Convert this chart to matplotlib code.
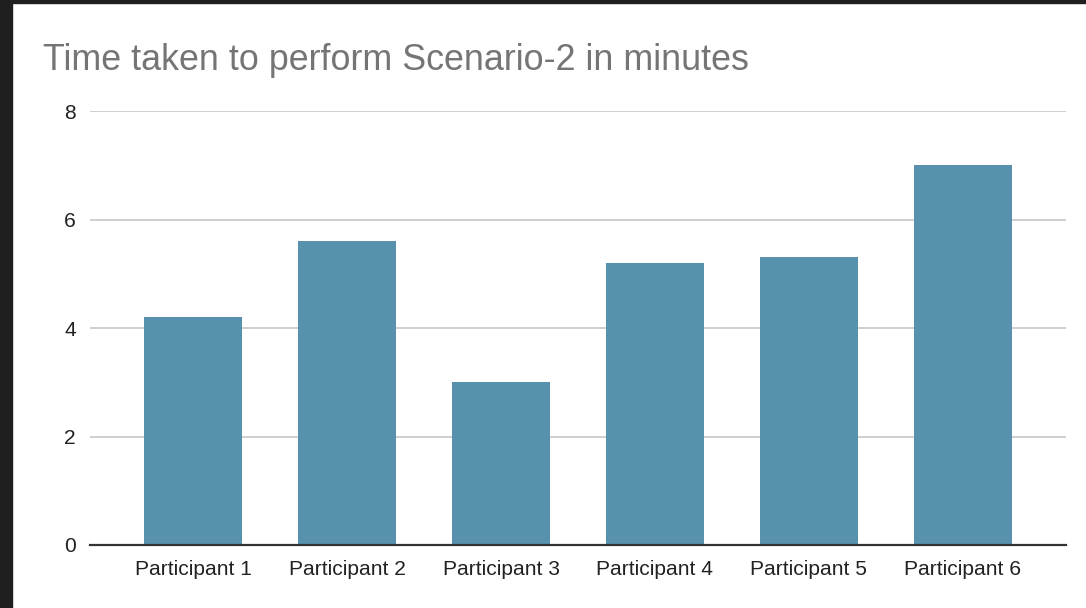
import matplotlib.pyplot as plt
from matplotlib.patches import Rectangle

participants = ['Participant 1', 'Participant 2', 'Participant 3',
                'Participant 4', 'Participant 5', 'Participant 6']
minutes = [4.2, 5.6, 3.0, 5.2, 5.3, 7.0]
yticks = [0, 2, 4, 6, 8]

plt.rcParams['font.family'] = ['Liberation Sans', 'DejaVu Sans']

fig = plt.figure(figsize=(10.86, 6.08), dpi=100)
ax = fig.add_axes([90/1086, 63/608, (1066-90)/1086, (545-111)/608])

x = range(len(participants))
ax.bar(x, minutes, width=0.64, color='#5891ad', zorder=3)

ax.set_xlim(-0.67, len(participants) - 0.33)
ax.set_ylim(0, 8)
ax.set_yticks(yticks)
ax.set_xticks(list(x))
ax.set_xticklabels(participants)
ax.tick_params(axis='both', length=0, labelsize=15.1, colors='#222222')
ax.tick_params(axis='y', pad=10)
ax.tick_params(axis='x', pad=11)

ax.grid(axis='y', color='#cccccc', linewidth=1.3, zorder=0)
for s in ['top', 'right', 'left']:
    ax.spines[s].set_visible(False)
ax.spines['bottom'].set_color('#333333')
ax.spines['bottom'].set_linewidth(1.6)
ax.spines['bottom'].set_zorder(4)

fig.text(43/1086, 1 - 60/608, 'Time taken to perform Scenario-2 in minutes',
         fontsize=25.8, color='#757575', va='center', ha='left')

# dark frame from the screenshot
fig.patches.append(Rectangle((0, 0), 12/1086, 1, transform=fig.transFigure,
                             color='#1f1f1f', zorder=10))
fig.patches.append(Rectangle((0, 1 - 3/608), 1, 3/608, transform=fig.transFigure,
                             color='#1f1f1f', zorder=10))

fig.savefig('out.png', dpi=100)
